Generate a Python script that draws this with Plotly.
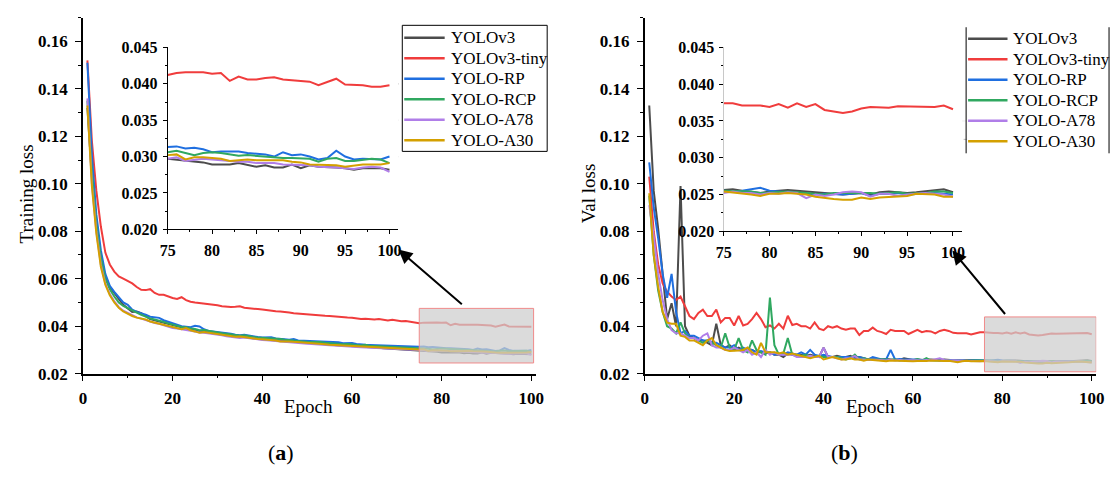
import plotly.graph_objects as go

SERIF = "Liberation Serif, Times New Roman, serif"
W, H = 1120, 477

epochs = list(range(1, 101))
names = ["YOLOv3", "YOLOv3-tiny", "YOLO-RP", "YOLO-RCP", "YOLO-A78", "YOLO-A30"]
colors = ["#4c4c4c", "#f03c3c", "#1f6fe0", "#30a860", "#b07ee8", "#d4a000"]

# ---------------- Training loss (a) ----------------
train_yolov3 = [0.132, 0.103, 0.082, 0.068, 0.061, 0.0565, 0.054, 0.0515, 0.049, 0.0475,
                0.046, 0.0462, 0.0455, 0.0442, 0.043, 0.0425, 0.042, 0.0413, 0.0408, 0.0402,
                0.0397, 0.0392, 0.039, 0.0386, 0.0382, 0.0378, 0.0376, 0.0373, 0.037, 0.0368,
                0.0364, 0.0362, 0.036, 0.0357, 0.0355, 0.0355, 0.0352, 0.0349, 0.0347, 0.0346,
                0.0345, 0.0343, 0.0341, 0.0339, 0.0337, 0.0336, 0.0334, 0.0333, 0.0331, 0.0329,
                0.0327, 0.0327, 0.0325, 0.0324, 0.0323, 0.0321, 0.032, 0.0318, 0.0317, 0.0316,
                0.0314, 0.0313, 0.0312, 0.0311, 0.031, 0.0309, 0.0307, 0.0306, 0.0305, 0.0304,
                0.0302, 0.0301, 0.0298, 0.0298, 0.0297, 0.0296, 0.0294, 0.0293, 0.0292, 0.0289,
                0.0289, 0.0289, 0.0291, 0.0289, 0.0286, 0.0288, 0.0285, 0.0285, 0.0289, 0.0284,
                0.0288, 0.0286, 0.0286, 0.0285, 0.0284, 0.0282, 0.0284, 0.0284, 0.0284, 0.0282]
train_tiny = [0.152, 0.118, 0.097, 0.082, 0.071, 0.066, 0.063, 0.061, 0.060, 0.059,
              0.058, 0.0565, 0.0553, 0.0552, 0.0556, 0.054, 0.0532, 0.0532, 0.0525, 0.0519,
              0.0515, 0.0522, 0.051, 0.0503, 0.050, 0.0498, 0.0495, 0.0493, 0.049, 0.0488,
              0.0484, 0.0482, 0.0481, 0.0482, 0.0484, 0.0478, 0.0475, 0.0474, 0.0472, 0.047,
              0.0467, 0.0465, 0.0463, 0.0462, 0.0461, 0.0458, 0.0455, 0.0453, 0.0451, 0.045,
              0.0448, 0.0447, 0.0446, 0.0444, 0.0443, 0.0441, 0.0438, 0.0436, 0.0437, 0.0436,
              0.0433, 0.043, 0.0431, 0.0428, 0.0428, 0.043, 0.0426, 0.0424, 0.0427, 0.0423,
              0.0421, 0.0422, 0.0418, 0.0413, 0.0412, 0.0415, 0.0416, 0.0416, 0.0416, 0.0414,
              0.0415, 0.0404, 0.041, 0.0406, 0.0406, 0.0408, 0.0409, 0.0406, 0.0405, 0.0405,
              0.0403, 0.0398, 0.0403, 0.0407, 0.0399, 0.0399, 0.0398, 0.0396, 0.0396, 0.0398]
train_rp = [0.151, 0.112, 0.087, 0.072, 0.062, 0.057, 0.0545, 0.052, 0.050, 0.049,
            0.047, 0.046, 0.0455, 0.0448, 0.044, 0.0438, 0.0435, 0.0425, 0.0418, 0.0412,
            0.0405, 0.040, 0.0398, 0.0396, 0.0402, 0.0399, 0.0387, 0.038, 0.0378, 0.0376,
            0.0372, 0.0372, 0.0368, 0.0364, 0.0362, 0.0364, 0.036, 0.0355, 0.0354, 0.0352,
            0.0352, 0.0353, 0.0348, 0.0345, 0.0345, 0.0343, 0.0346, 0.034, 0.0339, 0.0339,
            0.0336, 0.0335, 0.0335, 0.0333, 0.0334, 0.0331, 0.0332, 0.0328, 0.0328, 0.0329,
            0.0325, 0.0325, 0.0322, 0.0321, 0.032, 0.032, 0.0318, 0.0319, 0.0317, 0.0315,
            0.0314, 0.0313, 0.0315, 0.0313, 0.0313, 0.0314, 0.0311, 0.0312, 0.031, 0.0306,
            0.0307, 0.0307, 0.0307, 0.0305, 0.0304, 0.0303, 0.030, 0.0306, 0.0302, 0.0303,
            0.030, 0.0296, 0.0298, 0.0308, 0.030, 0.0296, 0.0297, 0.0296, 0.0296, 0.030]
train_rcp = [0.135, 0.105, 0.083, 0.069, 0.060, 0.0555, 0.0525, 0.050, 0.0485, 0.0475,
             0.0466, 0.0455, 0.0448, 0.044, 0.0432, 0.0428, 0.0424, 0.0418, 0.0412, 0.0406,
             0.0401, 0.0397, 0.0396, 0.039, 0.0388, 0.0383, 0.0384, 0.038, 0.0376, 0.0374,
             0.037, 0.0368, 0.0365, 0.0362, 0.036, 0.0362, 0.0357, 0.0354, 0.0352, 0.0351,
             0.035, 0.0348, 0.0349, 0.0346, 0.0343, 0.0342, 0.034, 0.0339, 0.0336, 0.0334,
             0.0334, 0.0331, 0.0333, 0.033, 0.0328, 0.0327, 0.0326, 0.0324, 0.0325, 0.0322,
             0.0322, 0.0319, 0.0322, 0.0317, 0.0316, 0.0315, 0.0314, 0.0315, 0.0312, 0.0312,
             0.031, 0.0309, 0.0309, 0.0307, 0.0306, 0.0308, 0.0305, 0.0302, 0.0305, 0.0306,
             0.0305, 0.0303, 0.0301, 0.0302, 0.0301, 0.030, 0.0298, 0.0298, 0.0298, 0.0297,
             0.0297, 0.0293, 0.0297, 0.0298, 0.0294, 0.0294, 0.0296, 0.0297, 0.0296, 0.0291]
train_a78 = [0.136, 0.100, 0.080, 0.066, 0.058, 0.0535, 0.0505, 0.048, 0.0465, 0.0455,
             0.0445, 0.0437, 0.0432, 0.0425, 0.0418, 0.0413, 0.041, 0.0404, 0.0398, 0.0392,
             0.039, 0.0386, 0.0384, 0.0381, 0.0378, 0.0373, 0.0372, 0.037, 0.0366, 0.0365,
             0.0362, 0.0358, 0.0356, 0.0352, 0.035, 0.0352, 0.0349, 0.0346, 0.0343, 0.0342,
             0.0341, 0.0339, 0.0337, 0.0335, 0.0334, 0.0332, 0.033, 0.033, 0.0328, 0.0326,
             0.0325, 0.0323, 0.0322, 0.0321, 0.032, 0.0319, 0.0317, 0.0316, 0.0315, 0.0313,
             0.0312, 0.0311, 0.031, 0.0309, 0.0308, 0.0307, 0.0306, 0.0305, 0.0303, 0.0302,
             0.0301, 0.030, 0.0299, 0.0298, 0.0297, 0.0299, 0.0294, 0.0296, 0.0297, 0.0296,
             0.0295, 0.0293, 0.0293, 0.0293, 0.0291, 0.0291, 0.0291, 0.0289, 0.0289, 0.0288,
             0.0288, 0.0286, 0.0286, 0.0285, 0.0284, 0.0283, 0.0285, 0.0286, 0.0285, 0.0279]
train_a30 = [0.133, 0.099, 0.079, 0.065, 0.0575, 0.053, 0.050, 0.0478, 0.0462, 0.0452,
             0.0443, 0.0436, 0.0433, 0.0428, 0.042, 0.0415, 0.0412, 0.0406, 0.040, 0.0395,
             0.039, 0.0387, 0.0392, 0.0383, 0.0378, 0.0372, 0.0375, 0.0372, 0.037, 0.0367,
             0.0363, 0.036, 0.0358, 0.0356, 0.0357, 0.0354, 0.035, 0.0348, 0.0346, 0.0345,
             0.0344, 0.0342, 0.034, 0.0336, 0.0337, 0.0336, 0.0334, 0.0333, 0.033, 0.0328,
             0.0327, 0.0326, 0.0325, 0.0324, 0.0322, 0.0321, 0.0321, 0.032, 0.0318, 0.0317,
             0.0316, 0.0315, 0.0313, 0.0312, 0.031, 0.031, 0.0308, 0.0307, 0.0306, 0.0305,
             0.0304, 0.0304, 0.0302, 0.0301, 0.0302, 0.0303, 0.0296, 0.0299, 0.0299, 0.0298,
             0.0297, 0.0294, 0.0295, 0.0296, 0.0295, 0.0295, 0.0294, 0.0295, 0.0293, 0.0292,
             0.0289, 0.0289, 0.0288, 0.0288, 0.0286, 0.0288, 0.0289, 0.0289, 0.0289, 0.0291]

# ---------------- Val loss (b) ----------------
val_yolov3 = [0.133, 0.097, 0.081, 0.062, 0.043, 0.0497, 0.040, 0.099, 0.040, 0.036,
              0.035, 0.034, 0.034, 0.033, 0.032, 0.041, 0.032, 0.031, 0.032, 0.030,
              0.031, 0.030, 0.0305, 0.030, 0.029, 0.029, 0.0285, 0.029, 0.028, 0.028,
              0.027, 0.0285, 0.028, 0.0275, 0.028, 0.0275, 0.028, 0.0275, 0.027, 0.031,
              0.027, 0.027, 0.0275, 0.027, 0.027, 0.0275, 0.0265, 0.027, 0.0265, 0.026,
              0.0265, 0.026, 0.026, 0.0262, 0.026, 0.026, 0.0258, 0.0265, 0.026, 0.0258,
              0.026, 0.0258, 0.0257, 0.026, 0.0258, 0.0257, 0.026, 0.0258, 0.0257, 0.0258,
              0.0256, 0.0258, 0.0257, 0.0256, 0.0256, 0.0257, 0.0255, 0.0253, 0.0252, 0.0254,
              0.0255, 0.0256, 0.0255, 0.0254, 0.0252, 0.0251, 0.025, 0.025, 0.0251, 0.0252,
              0.025, 0.0253, 0.0254, 0.0253, 0.0252, 0.0253, 0.0254, 0.0256, 0.0257, 0.0253]
val_tiny = [0.103, 0.080, 0.066, 0.058, 0.0545, 0.0525, 0.051, 0.0525, 0.0484, 0.0443,
            0.043, 0.0456, 0.047, 0.0443, 0.0443, 0.047, 0.0416, 0.0435, 0.0435, 0.0403,
            0.0443, 0.0403, 0.041, 0.043, 0.0456, 0.043, 0.0396, 0.0403, 0.039, 0.041,
            0.039, 0.0444, 0.0405, 0.041, 0.040, 0.040, 0.039, 0.0416, 0.039, 0.0383,
            0.040, 0.0394, 0.040, 0.039, 0.0385, 0.039, 0.039, 0.0363, 0.038, 0.038,
            0.0394, 0.038, 0.0375, 0.0367, 0.0385, 0.038, 0.038, 0.038, 0.0367, 0.0375,
            0.0385, 0.0375, 0.038, 0.0378, 0.037, 0.038, 0.0385, 0.038, 0.0372, 0.037,
            0.037, 0.037, 0.0365, 0.037, 0.0374, 0.0374, 0.0371, 0.0371, 0.0371, 0.0369,
            0.0373, 0.0368, 0.0374, 0.0369, 0.0373, 0.0365, 0.0363, 0.0361, 0.0363, 0.0367,
            0.0369, 0.0368, 0.0368, 0.037, 0.037, 0.037, 0.037, 0.0369, 0.0371, 0.0366]
val_rp = [0.109, 0.090, 0.077, 0.062, 0.052, 0.062, 0.046, 0.037, 0.038, 0.036,
          0.036, 0.035, 0.034, 0.034, 0.033, 0.033, 0.032, 0.031, 0.031, 0.032,
          0.030, 0.031, 0.030, 0.030, 0.029, 0.0295, 0.029, 0.029, 0.028, 0.0285,
          0.028, 0.029, 0.0285, 0.028, 0.029, 0.028, 0.030, 0.028, 0.0275, 0.028,
          0.0275, 0.027, 0.027, 0.027, 0.027, 0.027, 0.0265, 0.027, 0.0265, 0.026,
          0.027, 0.0265, 0.026, 0.026, 0.030, 0.026, 0.0262, 0.026, 0.026, 0.0262,
          0.026, 0.0258, 0.026, 0.0258, 0.0257, 0.0258, 0.0256, 0.0258, 0.0257, 0.0256,
          0.0257, 0.0256, 0.0255, 0.0256, 0.0255, 0.0254, 0.0255, 0.0257, 0.0259, 0.0255,
          0.0254, 0.0254, 0.0253, 0.0252, 0.025, 0.0251, 0.025, 0.025, 0.0251, 0.0252,
          0.0248, 0.0251, 0.0251, 0.0252, 0.025, 0.0251, 0.0252, 0.0252, 0.0251, 0.025]
val_rcp = [0.095, 0.070, 0.055, 0.046, 0.040, 0.039, 0.037, 0.0416, 0.037, 0.035,
           0.035, 0.034, 0.033, 0.034, 0.033, 0.032, 0.031, 0.037, 0.031, 0.030,
           0.035, 0.030, 0.029, 0.034, 0.030, 0.029, 0.028, 0.052, 0.032, 0.028,
           0.0285, 0.035, 0.028, 0.028, 0.0275, 0.028, 0.027, 0.027, 0.0275, 0.027,
           0.027, 0.027, 0.027, 0.0265, 0.026, 0.0265, 0.028, 0.026, 0.0265, 0.026,
           0.026, 0.026, 0.0258, 0.026, 0.0258, 0.026, 0.0255, 0.0258, 0.0255, 0.0256,
           0.0262, 0.0255, 0.0265, 0.0256, 0.0255, 0.0256, 0.0255, 0.0254, 0.0256, 0.0255,
           0.0254, 0.0255, 0.0254, 0.0255, 0.0255, 0.0255, 0.0254, 0.0254, 0.0252, 0.0253,
           0.0254, 0.0254, 0.0253, 0.0252, 0.0251, 0.025, 0.0252, 0.0252, 0.0252, 0.0253,
           0.0252, 0.0251, 0.0252, 0.0253, 0.0251, 0.0251, 0.0252, 0.0254, 0.0254, 0.0252]
val_a78 = [0.091, 0.078, 0.062, 0.051, 0.043, 0.0383, 0.037, 0.037, 0.036, 0.035,
           0.035, 0.034, 0.036, 0.037, 0.032, 0.031, 0.031, 0.030, 0.030, 0.031,
           0.030, 0.029, 0.030, 0.028, 0.029, 0.027, 0.030, 0.028, 0.029, 0.028,
           0.028, 0.028, 0.028, 0.027, 0.027, 0.027, 0.0275, 0.027, 0.027, 0.031,
           0.027, 0.027, 0.0265, 0.026, 0.0265, 0.0265, 0.0275, 0.026, 0.026, 0.0258,
           0.026, 0.0258, 0.0258, 0.0256, 0.026, 0.0255, 0.0258, 0.0255, 0.0257, 0.0255,
           0.0256, 0.0255, 0.0258, 0.0257, 0.0262, 0.0265, 0.0258, 0.0255, 0.0256, 0.0255,
           0.0254, 0.0255, 0.0254, 0.0253, 0.0252, 0.0254, 0.0252, 0.0252, 0.025, 0.0252,
           0.0251, 0.0253, 0.0252, 0.0245, 0.025, 0.0248, 0.025, 0.0253, 0.0254, 0.0253,
           0.0247, 0.0251, 0.0251, 0.0248, 0.025, 0.0251, 0.0252, 0.0251, 0.025, 0.0247]
val_a30 = [0.096, 0.070, 0.0565, 0.046, 0.0415, 0.041, 0.041, 0.036, 0.0355, 0.034,
           0.034, 0.033, 0.032, 0.034, 0.035, 0.032, 0.031, 0.030, 0.0295, 0.0295,
           0.0298, 0.030, 0.031, 0.029, 0.028, 0.033, 0.029, 0.029, 0.029, 0.0285,
           0.029, 0.028, 0.0285, 0.028, 0.0275, 0.027, 0.0265, 0.027, 0.0275, 0.026,
           0.0265, 0.027, 0.0265, 0.026, 0.026, 0.0265, 0.026, 0.026, 0.0255, 0.026,
           0.0258, 0.0255, 0.0255, 0.0252, 0.0255, 0.0254, 0.0255, 0.0252, 0.0253, 0.0252,
           0.0253, 0.0252, 0.0253, 0.0255, 0.0254, 0.0252, 0.0253, 0.0254, 0.0252, 0.0248,
           0.0252, 0.0254, 0.0252, 0.0253, 0.0254, 0.0253, 0.0251, 0.025, 0.0248, 0.0251,
           0.0251, 0.0252, 0.0251, 0.025, 0.0247, 0.0245, 0.0244, 0.0243, 0.0243, 0.0246,
           0.0244, 0.0246, 0.0247, 0.0247, 0.0248, 0.0251, 0.0251, 0.025, 0.0247, 0.0247]

train_series = [train_yolov3, train_tiny, train_rp, train_rcp, train_a78, train_a30]
val_series = [val_yolov3, val_tiny, val_rp, val_rcp, val_a78, val_a30]

# axis ranges / ticks
main_x_range = [0, 101]
main_y_range = [0.02, 0.17]
inset_x_range = [75, 101]
inset_y_range = [0.020, 0.045]
inset_a_refs = [(0.040, "#555555"), (0.035, "#cccccc"), (0.030, "#cccccc")]
zoom_box_a = dict(x=[75, 100.5], y=[0.0245, 0.0475])
zoom_box_b = dict(x=[76, 101], y=[0.0208, 0.0439])


def px_x(p):
    return p / W


def px_y(p):
    return 1 - p / H


fig = go.Figure()

for i, name in enumerate(names):
    c = colors[i]
    fig.add_trace(go.Scatter(x=epochs, y=train_series[i], mode="lines", name=name,
                             line=dict(color=c, width=2), xaxis="x", yaxis="y",
                             showlegend=False))
    fig.add_trace(go.Scatter(x=epochs, y=val_series[i], mode="lines", name=name,
                             line=dict(color=c, width=2), xaxis="x2", yaxis="y2",
                             showlegend=False))
for i, name in enumerate(names):
    c = colors[i]
    fig.add_trace(go.Scatter(x=epochs[74:], y=train_series[i][74:], mode="lines", name=name,
                             line=dict(color=c, width=2), xaxis="x3", yaxis="y3",
                             showlegend=False))
    fig.add_trace(go.Scatter(x=epochs[74:], y=val_series[i][74:], mode="lines", name=name,
                             line=dict(color=c, width=2), xaxis="x4", yaxis="y4",
                             showlegend=False))

main_tick_font = dict(family=SERIF, size=17, color="black", weight="bold")
inset_tick_font = dict(family=SERIF, size=16, color="black", weight="bold")


def main_axis(**kw):
    d = dict(showline=True, linecolor="black", linewidth=1.5, ticks="outside", ticklen=6,
             tickwidth=1.2, tickcolor="black", showgrid=False, zeroline=False,
             tickfont=main_tick_font, fixedrange=True)
    d.update(kw)
    return d


def inset_axis(**kw):
    d = dict(showline=True, linecolor="black", linewidth=1.2, ticks="outside", ticklen=4,
             tickwidth=1, tickcolor="black", showgrid=False, zeroline=False,
             tickfont=inset_tick_font, fixedrange=True)
    d.update(kw)
    return d


main_ydom = [px_y(380), px_y(10)]
fig.update_layout(
    width=W, height=H, margin=dict(l=0, r=0, t=0, b=0),
    paper_bgcolor="white", plot_bgcolor="white",
    font=dict(family=SERIF, color="black"),
    showlegend=False,
    xaxis=main_axis(domain=[px_x(76), px_x(535.5)], range=main_x_range, anchor="y",
                    tick0=0, dtick=20, ticklabelstandoff=2,
                    minor=dict(ticks="outside", ticklen=3, tickcolor="black", dtick=10)),
    yaxis=main_axis(domain=main_ydom, range=main_y_range, anchor="x", tick0=0.02, dtick=0.02,
                    tickformat=".2f", ticklabelstandoff=4,
                    minor=dict(ticks="outside", ticklen=3, tickcolor="black", dtick=0.01)),
    xaxis2=main_axis(domain=[px_x(646), px_x(1104)], range=main_x_range, anchor="y2",
                     tick0=0, dtick=20, ticklabelstandoff=2,
                     minor=dict(ticks="outside", ticklen=3, tickcolor="black", dtick=10)),
    yaxis2=main_axis(domain=main_ydom, range=main_y_range, anchor="x2", tick0=0.02, dtick=0.02,
                     tickformat=".2f", ticklabelstandoff=4,
                     minor=dict(ticks="outside", ticklen=3, tickcolor="black", dtick=0.01)),
    xaxis3=inset_axis(domain=[px_x(162), px_x(396)], range=inset_x_range, anchor="y3",
                      tick0=75, dtick=5, ticklabelstandoff=2,
                      minor=dict(ticks="outside", ticklen=2, tickcolor="black", dtick=2.5)),
    yaxis3=inset_axis(domain=[px_y(230), px_y(41)], range=inset_y_range, anchor="x3",
                      tick0=0.02, dtick=0.005, tickformat=".3f", ticklabelstandoff=2,
                      minor=dict(ticks="outside", ticklen=2, tickcolor="black", dtick=0.0025)),
    xaxis4=inset_axis(domain=[px_x(726), px_x(968)], range=inset_x_range, anchor="y4",
                      tick0=75, dtick=5, ticklabelstandoff=2,
                      minor=dict(ticks="outside", ticklen=2, tickcolor="black", dtick=2.5)),
    yaxis4=inset_axis(domain=[px_y(232), px_y(41)], range=inset_y_range, anchor="x4",
                      linecolor="#c8c8c8", tick0=0.02, dtick=0.005, tickformat=".3f",
                      ticklabelstandoff=1,
                      minor=dict(ticks="outside", ticklen=2, tickcolor="black", dtick=0.0025)),
    hovermode=False,
)

shapes = []
ann = []

# inset reference lines (a)
for val, col in inset_a_refs:
    shapes.append(dict(type="line", xref="x3 domain", yref="y3", x0=0, x1=1.0, y0=val, y1=val,
                       line=dict(color=col, width=1.2), layer="below"))
# inset reference lines (b)
shapes.append(dict(type="line", xref="x4 domain", yref="y4", x0=0, x1=1.02, y0=0.035, y1=0.035,
                   line=dict(color="#eeeeee", width=1), layer="below"))
shapes.append(dict(type="line", xref="x4 domain", yref="y4", x0=0, x1=1.02, y0=0.0325, y1=0.0325,
                   line=dict(color="#bbbbbb", width=1, dash="dot"), layer="below"))
# zoom boxes
for box, xr, yr in [(zoom_box_a, "x", "y"), (zoom_box_b, "x2", "y2")]:
    shapes.append(dict(type="rect", xref=xr, yref=yr, x0=box["x"][0], x1=box["x"][1],
                       y0=box["y"][0], y1=box["y"][1], fillcolor="rgba(205,205,205,0.72)",
                       line=dict(color="#f08a8a", width=1), layer="above"))

# legends (drawn as line samples + text)
legend_font = dict(family=SERIF, size=17, color="black")
LEG_STEP = 21.3
# (a): framed box
shapes.append(dict(type="rect", xref="paper", yref="paper", x0=px_x(400), x1=px_x(547),
                   y0=px_y(149), y1=px_y(18), line=dict(color="black", width=1),
                   fillcolor="white", layer="above"))
for i, name in enumerate(names):
    yc = 31 + i * LEG_STEP
    shapes.append(dict(type="line", xref="paper", yref="paper", x0=px_x(402), x1=px_x(443),
                       y0=px_y(yc), y1=px_y(yc), line=dict(color=colors[i], width=2.5),
                       layer="above"))
    ann.append(dict(text=name, x=px_x(447), y=px_y(yc), xref="paper", yref="paper",
                    xanchor="left", yanchor="middle", showarrow=False, font=legend_font))
# (b): side rules only
for xp in [972, 1117]:
    shapes.append(dict(type="line", xref="paper", yref="paper", x0=px_x(xp), x1=px_x(xp),
                       y0=px_y(151), y1=px_y(20), line=dict(color="black", width=1)))
for i, name in enumerate(names):
    yc = 32 + i * LEG_STEP
    shapes.append(dict(type="line", xref="paper", yref="paper", x0=px_x(974), x1=px_x(1014),
                       y0=px_y(yc), y1=px_y(yc), line=dict(color=colors[i], width=2.5),
                       layer="above"))
    ann.append(dict(text=name, x=px_x(1018), y=px_y(yc), xref="paper", yref="paper",
                    xanchor="left", yanchor="middle", showarrow=False, font=legend_font))

fig.update_layout(shapes=shapes)

title_font = dict(family=SERIF, size=19, color="black")
ann.append(dict(text="Training loss", x=px_x(19), y=px_y(193), xref="paper", yref="paper",
                xanchor="center", yanchor="middle", textangle=-90, showarrow=False,
                font=title_font))
ann.append(dict(text="Val loss", x=px_x(589), y=px_y(193), xref="paper", yref="paper",
                xanchor="center", yanchor="middle", textangle=-90, showarrow=False,
                font=title_font))
ann.append(dict(text="Epoch", x=px_x(305), y=px_y(414), xref="paper", yref="paper",
                xanchor="center", yanchor="middle", showarrow=False, font=title_font))
ann.append(dict(text="Epoch", x=px_x(875), y=px_y(414), xref="paper", yref="paper",
                xanchor="center", yanchor="middle", showarrow=False, font=title_font))
ann.append(dict(text="(<b>a</b>)", x=px_x(277), y=px_y(462), xref="paper", yref="paper",
                xanchor="center", yanchor="middle", showarrow=False,
                font=dict(family=SERIF, size=22, color="black")))
ann.append(dict(text="(<b>b</b>)", x=px_x(849), y=px_y(462), xref="paper", yref="paper",
                xanchor="center", yanchor="middle", showarrow=False,
                font=dict(family=SERIF, size=22, color="black")))
# arrows
ann.append(dict(text="", x=px_x(396), y=px_y(251), xref="paper", yref="paper",
                ax=65, ay=56, showarrow=True, arrowhead=2, arrowsize=1.4, arrowwidth=2,
                arrowcolor="black"))
ann.append(dict(text="", x=px_x(958), y=px_y(252), xref="paper", yref="paper",
                ax=54, ay=65, showarrow=True, arrowhead=2, arrowsize=1.4, arrowwidth=2,
                arrowcolor="black"))
fig.update_layout(annotations=ann)

fig.write_html("out.html")
